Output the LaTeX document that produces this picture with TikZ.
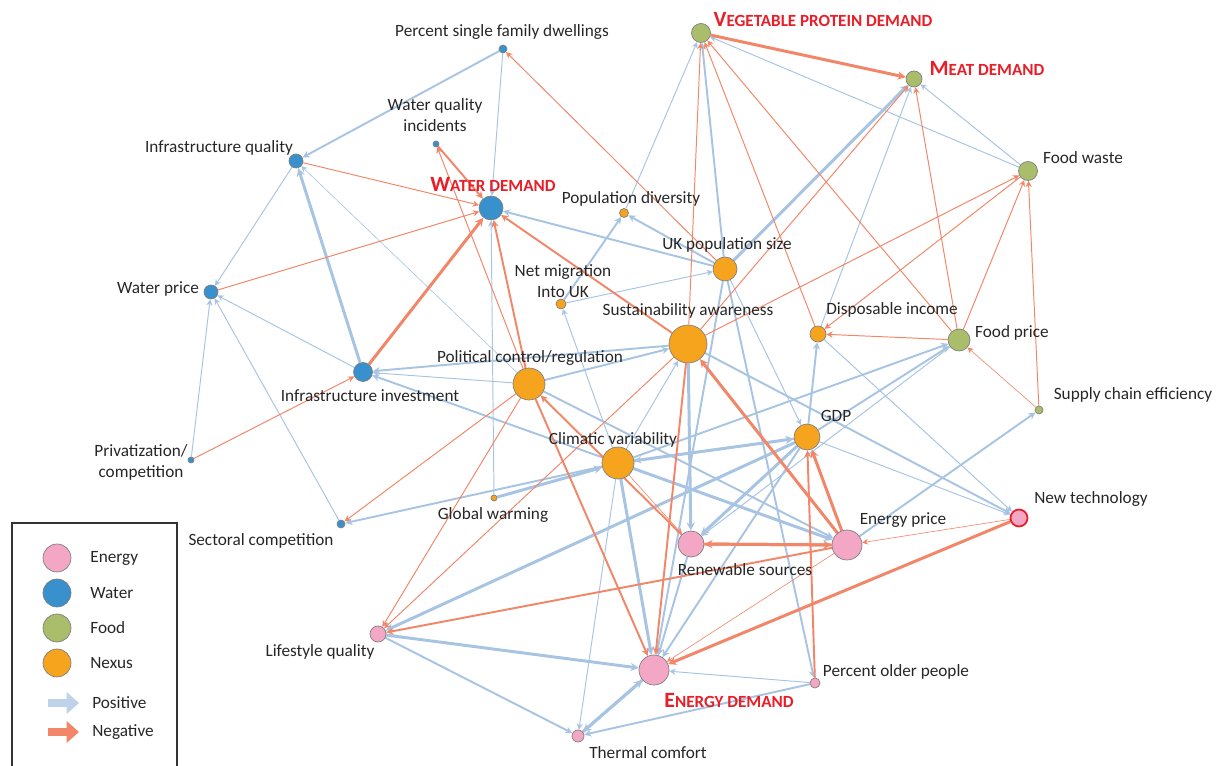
\documentclass[tikz,border=0pt]{standalone}
\usepackage{fontspec}
\setmainfont{Carlito}
\usetikzlibrary{arrows.meta}
\usetikzlibrary{backgrounds}
\definecolor{posc}{RGB}{168,196,227}
\definecolor{negc}{RGB}{242,134,104}
\definecolor{enc}{RGB}{244,167,196}
\definecolor{wac}{RGB}{56,144,204}
\definecolor{foc}{RGB}{169,189,106}
\definecolor{nec}{RGB}{246,164,30}
\definecolor{dred}{RGB}{232,30,40}
\newcommand{\demandlbl}[2]{\textbf{\fontsize{12.4}{14}\selectfont #1\fontsize{9.7}{12}\selectfont #2}}
\tikzset{varnode/.style = {circle, draw=black!50, line width=0.4pt, inner sep=0pt,
                           minimum size=#1*0.04cm},
         energy/.style = {varnode=#1, fill=enc},
         water/.style = {varnode=#1, fill=wac},
         food/.style = {varnode=#1, fill=foc},
         nexus/.style = {varnode=#1, fill=nec},
         lbl/.style = {font=\fontsize{9.8}{12}\selectfont, text=black!85, inner sep=0pt,
                       align=center},
         rlbl/.style = {text=dred, inner sep=0pt},
         posl/.style = {draw=posc, -{Stealth[length=3pt 1, width=3pt 1]}},
         negl/.style = {draw=negc, -{Stealth[length=3pt 1, width=3pt 1]}},
         vthn/.style = {line width=0.35pt},
         thn/.style = {line width=0.55pt},
         med/.style = {line width=1.1pt},
         thk/.style = {line width=1.7pt}}

\begin{document}
\begin{tikzpicture}[x=0.02cm, y=-0.02cm]
    \useasboundingbox (0,0) rectangle (1217,766);

    % water
    \node [water=4] (psfd) at (503,49) {};
    \node [water=3] (wqi) at (436,144) {};
    \node [water=7] (iq) at (296,161) {};
    \node [water=12] (wd) at (491,208) {};
    \node [water=7] (wp) at (211,292) {};
    \node [water=9.5] (ii) at (363,372) {};
    \node [water=3] (priv) at (191,460) {};
    \node [water=4] (sc) at (341,524) {};
    % nexus
    \node [nexus=3] (gw) at (494,498) {};
    \node [nexus=4.5] (pd) at (624,213) {};
    \node [nexus=5] (nm) at (561,304) {};
    \node [nexus=12] (ukp) at (725,269) {};
    \node [nexus=19] (sa) at (688,344) {};
    \node [nexus=16] (pcr) at (529,384) {};
    \node [nexus=8] (di) at (818,334) {};
    \node [nexus=16] (cv) at (618,463) {};
    \node [nexus=13] (gdp) at (807,437) {};
    % food
    \node [food=11] (fp) at (959,340) {};
    \node [food=9.5] (fw) at (1028,171) {};
    \node [food=9.5] (vpd) at (701,33) {};
    \node [food=8] (md) at (914,79) {};
    \node [food=4] (sce) at (1039,410) {};
    % energy
    \node [energy=8.5, draw=dred, line width=1pt] (nt) at (1019,518) {};
    \node [energy=15] (ep) at (847,545) {};
    \node [energy=13] (rs) at (691,544) {};
    \node [energy=8] (lq) at (378,634) {};
    \node [energy=15] (ed) at (654,670) {};
    \node [energy=5] (pop) at (815,683) {};
    \node [energy=6] (tc) at (578,736) {};

    \node [lbl] (psfd-l) at (502,32) {Percent single family dwellings};
    \node [lbl] (wqi-l) at (435,115) {Water quality\\incidents};
    \node [lbl] (iq-l) at (219,148) {Infrastructure quality};
    \node [rlbl] (wd-l) at (493,184) {\demandlbl{W}{ATER DEMAND}};
    \node [lbl] (wp-l) at (158,289) {Water price};
    \node [lbl] (ii-l) at (370,396) {Infrastructure investment};
    \node [lbl] (priv-l) at (141,462) {Privatization/\\competition};
    \node [lbl] (sc-l) at (261,541) {Sectoral competition};
    \node [lbl] (gw-l) at (493,515) {Global warming};
    \node [lbl] (pd-l) at (631,199) {Population diversity};
    \node [lbl] (nm-l) at (563,281) {Net migration\\Into UK};
    \node [lbl] (ukp-l) at (727,245) {UK population size};
    \node [lbl] (sa-l) at (688,311) {Sustainability awareness};
    \node [lbl] (pcr-l) at (530,358) {Political control/regulation};
    \node [lbl] (di-l) at (892,310) {Disposable income};
    \node [lbl] (fp-l) at (1012,333) {Food price};
    \node [lbl] (fw-l) at (1083,158) {Food waste};
    \node [rlbl] (vpd-l) at (823,20) {\demandlbl{V}{EGETABLE PROTEIN DEMAND}};
    \node [rlbl] (md-l) at (987,68) {\demandlbl{M}{EAT DEMAND}};
    \node [lbl] (sce-l) at (1133,395) {Supply chain efficiency};
    \node [lbl] (cv-l) at (613,440) {Climatic variability};
    \node [lbl] (gdp-l) at (836,416) {GDP};
    \node [lbl] (nt-l) at (1091,499) {New technology};
    \node [lbl] (ep-l) at (903,520) {Energy price};
    \node [lbl] (rs-l) at (745,570) {Renewable sources};
    \node [lbl] (lq-l) at (320,652) {Lifestyle quality};
    \node [rlbl] (ed-l) at (729,700) {\demandlbl{E}{NERGY DEMAND}};
    \node [lbl] (pop-l) at (896,672) {Percent older people};
    \node [lbl] (tc-l) at (648,753) {Thermal comfort};

    \begin{scope}[on background layer]
    % positive links
    \draw [posl, med] (psfd) -- (iq);
    \draw [posl, thn] (psfd) -- (wd);
    \draw [posl, thn] (iq) -- (wp);
    \draw [posl, thk] (ii) -- (iq);
    \draw [posl, thn] (ii) -- (wp);
    \draw [posl, thn] (priv) -- (wp);
    \draw [posl, thn] (sc) -- (wp);
    \draw [posl, vthn] (pcr) -- (iq);
    \draw [posl, thn] (gw) -- (wd);
    \draw [posl, med] (ukp) -- (wd);
    \draw [posl, med] (nm) -- (pd);
    \draw [posl, med] (ukp) -- (pd);
    \draw [posl, thn] (nm) -- (ukp);
    \draw [posl, thn] (cv) -- (nm);
    \draw [posl, thn] (pcr) -- (ii);
    \draw [posl, med] (sa) -- (ii);
    \draw [posl, med] (cv) -- (ii);
    \draw [posl, med] (cv) -- (sc);
    \draw [posl, thk] (gw) -- (cv);
    \draw [posl, med] (pcr) -- (sa);
    \draw [posl, med] (ukp) -- (vpd);
    \draw [posl, thn] (pd) -- (vpd);
    \draw [posl, thn] (fw) -- (vpd);
    \draw [posl, thk] (ukp) -- (md);
    \draw [posl, thn] (di) -- (md);
    \draw [posl, thn] (fw) -- (md);
    \draw [posl, thk] (sa) -- (rs);
    \draw [posl, med] (ukp) -- (ed);
    \draw [posl, med] (ukp) -- (pop);
    \draw [posl, thn] (ukp) -- (gdp);
    \draw [posl, thk] (cv) -- (ed);
    \draw [posl, med] (rs) -- (ed);
    \draw [posl, med] (gdp) -- (ed);
    \draw [posl, thk] (gdp) -- (rs);
    \draw [posl, thk] (cv) -- (gdp);
    \draw [posl, med] (gdp) -- (cv);
    \draw [posl, thk] (cv) -- (ep);
    \draw [posl, med] (pcr) -- (ep);
    \draw [posl, thn] (cv) -- (sa);
    \draw [posl, med] (gdp) -- (di);
    \draw [posl, med] (sa) -- (nt);
    \draw [posl, thn] (di) -- (nt);
    \draw [posl, thn] (gdp) -- (nt);
    \draw [posl, med] (ep) -- (sce);
    \draw [posl, thk] (lq) -- (ed);
    \draw [posl, thn] (pop) -- (ed);
    \draw [posl, thk] (tc) -- (ed);
    \draw [posl, thk] (ed) -- (tc);
    \draw [posl, med] (lq) -- (tc);
    \draw [posl, thn] (cv) -- (tc);
    \draw [posl, med] (pop) -- (tc);
    \draw [posl, thk] (gdp) -- (lq);
    \draw [posl, med] (cv) -- (fp);
    \draw [posl, med] (gdp) -- (fp);
    \draw [posl, thn] (fp) -- (rs);
    % negative links
    \draw [negl, thn] (ukp) -- (psfd);
    \draw [negl, thn] (iq) -- (wd);
    \draw [negl, thn] (wp) -- (wd);
    \draw [negl, thk] (ii) -- (wd);
    \draw [negl, thn] (priv) -- (ii);
    \draw [negl, med] (wqi) -- (wd);
    \draw [negl, thn] (pcr) -- (wqi);
    \draw [negl, med] (pcr) -- (wd);
    \draw [negl, med] (sa) -- (wd);
    \draw [negl, thn] (pcr) -- (sc);
    \draw [negl, thn] (sa) -- (vpd);
    \draw [negl, thn] (di) -- (vpd);
    \draw [negl, thn] (fp) -- (vpd);
    \draw [negl, thk] (vpd) -- (md);
    \draw [negl, thn] (sa) -- (md);
    \draw [negl, thn] (fp) -- (md);
    \draw [negl, thn] (fp) -- (fw);
    \draw [negl, thn] (sce) -- (fw);
    \draw [negl, vthn] (sce) -- (fp);
    \draw [negl, thn] (fp) -- (di);
    \draw [negl, thn] (fw) -- (di);
    \draw [negl, thn] (sa) -- (fw);
    \draw [negl, med] (pcr) -- (ed);
    \draw [negl, med] (sa) -- (ed);
    \draw [negl, thk] (nt) -- (ed);
    \draw [negl, vthn] (ep) -- (ed);
    \draw [negl, med] (rs) -- (pcr);
    \draw [negl, vthn] (cv) -- (rs);
    \draw [negl, thk] (rs) -- (ep);
    \draw [negl, thk] (ep) -- (rs);
    \draw [negl, med] (ep) -- (lq);
    \draw [negl, thk] (ep) -- (gdp);
    \draw [negl, thk] (ep) -- (sa);
    \draw [negl, med] (pop) -- (gdp);
    \draw [negl, vthn] (nt) -- (ep);
    \draw [negl, thn] (sa) -- (lq);
    \draw [negl, thn] (pcr) -- (lq);
    \end{scope}

    % legend
    \draw [black!80, line width=0.9pt] (12,775) -- (12,523) -- (177,523) -- (177,775);
    \node [energy=14] (leg-en) at (57,558) {};
    \node [water=14] (leg-wa) at (57,593) {};
    \node [food=14] (leg-fo) at (57,628) {};
    \node [nexus=14] (leg-ne) at (57,663) {};
    \node [lbl, anchor=west] (leg-en-l) at (90,558) {Energy};
    \node [lbl, anchor=west] (leg-wa-l) at (90,593) {Water};
    \node [lbl, anchor=west] (leg-fo-l) at (90,628) {Food};
    \node [lbl, anchor=west] (leg-ne-l) at (90,663) {Nexus};
    \coordinate (leg-p1) at (48,703);
    \coordinate (leg-p2) at (79,703);
    \coordinate (leg-n1) at (48,732);
    \coordinate (leg-n2) at (79,732);
    \draw [posc!75, line width=4pt, -{Triangle[length=7pt, width=12pt]}] (leg-p1) -- (leg-p2);
    \draw [negc, line width=4pt, -{Triangle[length=7pt, width=12pt]}] (leg-n1) -- (leg-n2);
    \node [lbl, anchor=west] (leg-p-l) at (92,703) {Positive};
    \node [lbl, anchor=west] (leg-n-l) at (92,732) {Negative};
  \end{tikzpicture}
\end{document}
